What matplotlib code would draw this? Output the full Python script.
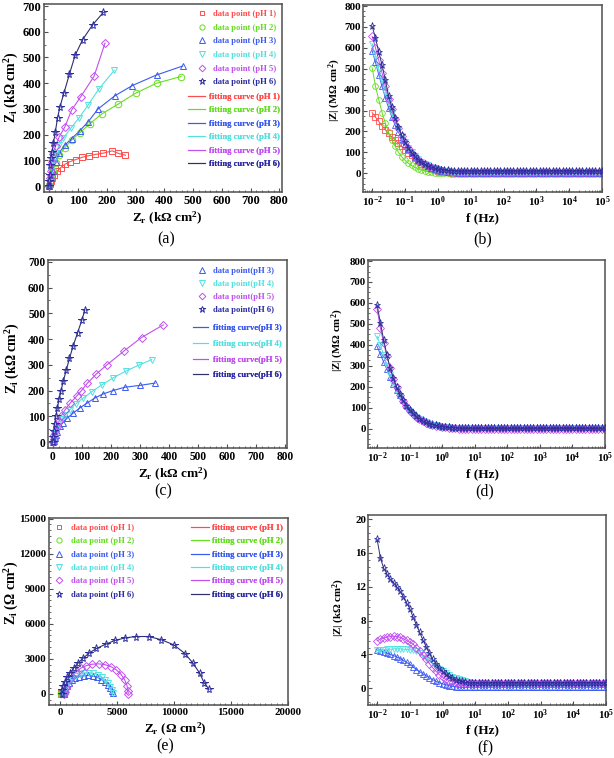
import numpy as np
import matplotlib
matplotlib.use('Agg')
import matplotlib.pyplot as plt
from matplotlib.ticker import MultipleLocator, AutoMinorLocator, LogLocator, FuncFormatter, NullFormatter

W, H = 614, 758

RED = '#FF4D4D'
GREEN = '#66DD22'
BLUE = '#3B5BF0'
CYAN = '#55E0E0'
VIOLET = '#C050F0'
NAVY = '#2C2CA0'
NAVY_LINE = '#30306A'

# ---- (a) Nyquist, kOhm cm2 ----
a_zr = {
    1: [0, 2, 5, 10, 18, 28, 40, 55, 72, 92, 115, 137, 160, 188, 219, 240, 265],
    2: [0, 5, 12, 22, 35, 55, 78, 107, 141, 182, 240, 300, 373, 458],
    3: [0, 5, 12, 22, 35, 55, 78, 107, 136, 170, 228, 289, 373, 464],
    4: [0, 3, 8, 15, 25, 35, 49, 75, 103, 136, 172, 226],
    5: [0, 3, 6, 10, 15, 22, 35, 54, 78, 110, 156, 194],
    6: [0, 1, 2, 3, 6, 10, 15, 21, 29, 37, 51, 70, 90, 116, 151, 188],
}
a_zi = {
    1: [0, 8, 18, 30, 45, 58, 72, 85, 95, 103, 112, 118, 123, 128, 137, 127, 120],
    2: [0, 30, 60, 90, 120, 150, 179, 208, 242, 280, 319, 361, 400, 426],
    3: [0, 30, 60, 95, 130, 160, 185, 216, 251, 300, 351, 391, 432, 467],
    4: [0, 30, 60, 95, 130, 160, 186, 225, 264, 316, 377, 450],
    5: [0, 30, 60, 95, 125, 155, 192, 229, 296, 348, 427, 556],
    6: [0, 20, 45, 82, 108, 134, 169, 209, 264, 306, 361, 434, 508, 569, 627, 675],
}

# ---- (c) Nyquist, kOhm cm2 ----
c_zr = {
    3: [0, 3, 6, 10, 15, 23, 35, 49, 69, 92, 117, 144, 173, 207, 247, 299, 351],
    4: [0, 2, 5, 9, 14, 21, 30, 42, 58, 78, 103, 133, 168, 208, 252, 298, 340],
    5: [0, 2, 4, 8, 13, 20, 29, 42, 60, 83, 96, 119, 150, 186, 245, 305, 380],
    6: [0, 1, 3, 6, 10, 15, 21, 28, 36, 46, 57, 70, 85, 100, 110],
}
c_zi = {
    3: [0, 6, 16, 28, 41, 61, 76, 93, 112, 132, 151, 171, 187, 200, 213, 220, 229],
    4: [0, 10, 22, 36, 52, 70, 88, 106, 126, 148, 170, 195, 222, 250, 276, 300, 320],
    5: [0, 12, 26, 42, 60, 80, 102, 126, 152, 180, 197, 229, 265, 300, 354, 406, 455],
    6: [0, 18, 42, 70, 100, 132, 166, 200, 238, 280, 325, 375, 425, 475, 513],
}

# ---- (e) Nyquist, Ohm cm2 ----
e_zr = {
    1: [40, 70, 110, 160, 210, 250, 280],
    2: [50, 90, 140, 200, 260, 310, 340],
    3: [280, 330, 420, 560, 750, 1000, 1300, 1650, 2050, 2450, 2850, 3250, 3600, 3900, 4150, 4350, 4500, 4580],
    4: [300, 350, 450, 600, 800, 1050, 1350, 1700, 2100, 2500, 2900, 3300, 3650, 3950, 4200, 4400, 4550, 4620],
    5: [350, 380, 520, 670, 970, 1340, 1780, 2280, 2810, 3370, 3890, 4420, 4920, 5360, 5650, 5850, 5940, 5960],
    6: [100, 115, 230, 410, 610, 880, 1170, 1550, 2000, 2520, 3170, 3990, 4780, 5710, 6680, 7760,
        8850, 9960, 10950, 11650, 12240, 12620, 13060],
}
e_zi = {
    1: [0, 50, 80, 90, 75, 45, 10],
    2: [0, 60, 100, 115, 100, 60, 15],
    3: [0, 200, 430, 680, 920, 1150, 1340, 1480, 1560, 1580, 1530, 1410, 1230, 1010, 760, 500, 250, 50],
    4: [0, 230, 480, 760, 1040, 1300, 1530, 1700, 1800, 1820, 1770, 1640, 1440, 1200, 920, 620, 300, 60],
    5: [0, 200, 480, 770, 1340, 1830, 2200, 2420, 2540, 2570, 2510, 2340, 2060, 1630, 1200, 710, 250, 20],
    6: [0, 343, 686, 1057, 1429, 1829, 2200, 2629, 3057, 3486, 3886, 4256, 4570, 4799, 4910, 4910,
        4640, 4199, 3450, 2629, 1771, 971, 400],
}

# ---- Bode |Z| sweeps, 10 points per decade from 0.01 Hz to 100 kHz ----
freq = np.logspace(-2, 5, 71)

b_mod = {
    1: [290, 268, 248, 228, 207, 190, 173, 157, 143, 128, 113, 98, 85, 71, 57, 45, 34, 26, 19, 14,
        10, 7, 5, 4, 3, 2,
        0, 0, 0, 0, 0, 0, 0, 0, 0, 0, 0, 0, 0, 0, 0,
        0, 0, 0, 0, 0, 0, 0, 0, 0, 0, 0, 0, 0, 0, 0,
        0, 0, 0, 0, 0, 0, 0, 0, 0, 0, 0, 0, 0, 0, 0],
    2: [504, 416, 352, 290, 240, 195, 160, 128, 100, 78, 62, 48, 37, 28, 21, 15, 11, 7, 4, 2,
        1, 0, -1, -1, -2, -2,
        -2, -2, -2, -2, -2, -2, -2, -2, -2, -2, -2, -2, -2, -2, -2,
        -2, -2, -2, -2, -2, -2, -2, -2, -2, -2, -2, -2, -2, -2, -2,
        -2, -2, -2, -2, -2, -2, -2, -2, -2, -2, -2, -2, -2, -2, -2],
    3: [585, 530, 472, 415, 362, 312, 268, 230, 196, 165, 138, 115, 95, 78, 64, 52, 42, 34, 27, 21,
        16, 12, 9, 7, 5, 4,
        3, 3, 3, 3, 3, 3, 3, 3, 3, 3, 3, 3, 3, 3, 3,
        3, 3, 3, 3, 3, 3, 3, 3, 3, 3, 3, 3, 3, 3, 3,
        3, 3, 3, 3, 3, 3, 3, 3, 3, 3, 3, 3, 3, 3, 3],
    4: [620, 560, 500, 445, 390, 337, 290, 248, 210, 177, 148, 122, 100, 82, 67, 55, 45, 37, 30, 24,
        19, 15, 12, 9, 7, 6,
        4, 4, 4, 4, 4, 4, 4, 4, 4, 4, 4, 4, 4, 4, 4,
        4, 4, 4, 4, 4, 4, 4, 4, 4, 4, 4, 4, 4, 4, 4,
        4, 4, 4, 4, 4, 4, 4, 4, 4, 4, 4, 4, 4, 4, 4],
    5: [655, 600, 540, 480, 418, 357, 305, 258, 215, 180, 148, 120, 98, 80, 65, 53, 43, 35, 29, 23,
        19, 15, 12, 10, 8, 7,
        6, 6, 6, 6, 6, 6, 6, 6, 6, 6, 6, 6, 6, 6, 6,
        6, 6, 6, 6, 6, 6, 6, 6, 6, 6, 6, 6, 6, 6, 6,
        6, 6, 6, 6, 6, 6, 6, 6, 6, 6, 6, 6, 6, 6, 6],
    6: [703, 647, 580, 517, 445, 370, 317, 266, 219, 182, 150, 122, 99, 80, 65, 53, 43, 35, 29, 24,
        20, 17, 15, 13, 12, 11,
        10, 10, 10, 10, 10, 10, 10, 10, 10, 10, 10, 10, 10, 10, 10,
        10, 10, 10, 10, 10, 10, 10, 10, 10, 10, 10, 10, 10, 10, 10,
        10, 10, 10, 10, 10, 10, 10, 10, 10, 10, 10, 10, 10, 10, 10],
}

d_mod = {
    3: [392, 355, 318, 282, 248, 215, 185, 158, 134, 113, 95, 79, 66, 55, 45, 37, 31, 26, 21, 17,
        14, 12, 10, 9, 8, 8,
        8, 8, 8, 8, 8, 8, 8, 8, 8, 8, 8, 8, 8, 8, 8,
        8, 8, 8, 8, 8, 8, 8, 8, 8, 8, 8, 8, 8, 8, 8,
        8, 8, 8, 8, 8, 8, 8, 8, 8, 8, 8, 8, 8, 8, 8],
    4: [440, 400, 350, 300, 255, 215, 180, 150, 125, 103, 85, 70, 57, 46, 37, 30, 24, 19, 15, 12,
        9, 7, 5, 4, 3, 3,
        3, 3, 3, 3, 3, 3, 3, 3, 3, 3, 3, 3, 3, 3, 3,
        3, 3, 3, 3, 3, 3, 3, 3, 3, 3, 3, 3, 3, 3, 3,
        3, 3, 3, 3, 3, 3, 3, 3, 3, 3, 3, 3, 3, 3, 3],
    5: [570, 480, 410, 345, 287, 237, 196, 161, 131, 106, 86, 69, 55, 44, 35, 28, 22, 17, 13, 10,
        7, 5, 3, 2, 1, 0,
        0, 0, 0, 0, 0, 0, 0, 0, 0, 0, 0, 0, 0, 0, 0,
        0, 0, 0, 0, 0, 0, 0, 0, 0, 0, 0, 0, 0, 0, 0,
        0, 0, 0, 0, 0, 0, 0, 0, 0, 0, 0, 0, 0, 0, 0],
    6: [590, 505, 425, 352, 290, 240, 198, 163, 134, 110, 90, 73, 59, 47, 38, 30, 24, 19, 15, 12,
        9, 7, 5, 4, 3, 2,
        1, 1, 1, 1, 1, 1, 1, 1, 1, 1, 1, 1, 1, 1, 1,
        1, 1, 1, 1, 1, 1, 1, 1, 1, 1, 1, 1, 1, 1, 1,
        1, 1, 1, 1, 1, 1, 1, 1, 1, 1, 1, 1, 1, 1, 1],
}

f_mod = {
    3: [4.5, 4.4, 4.3, 4.15, 4.0, 3.85, 3.7, 3.5, 3.3, 3.05, 2.8, 2.5, 2.2, 1.95, 1.7, 1.45, 1.2, 1.0,
        0.8, 0.65, 0.5, 0.4, 0.3, 0.2, 0.15,
        0.1, 0.1, 0.1, 0.1, 0.1, 0.1, 0.1, 0.1, 0.1, 0.1, 0.1, 0.1, 0.1, 0.1, 0.1, 0.1,
        0.1, 0.1, 0.1, 0.1, 0.1, 0.1, 0.1, 0.1, 0.1, 0.1, 0.1, 0.1, 0.1, 0.1, 0.1,
        0.1, 0.1, 0.1, 0.1, 0.1, 0.1, 0.1, 0.1, 0.1, 0.1, 0.1, 0.1, 0.1, 0.1, 0.1],
    4: [4.5, 4.5, 4.55, 4.6, 4.6, 4.65, 4.65, 4.65, 4.6, 4.6, 4.55, 4.5, 4.35, 4.15, 3.9, 3.6, 3.3,
        3.0, 2.65, 2.3, 2.0, 1.75, 1.55, 1.35, 1.2, 1.05, 0.95, 0.85, 0.75, 0.65, 0.55, 0.5,
        0.45, 0.45, 0.45, 0.45, 0.45, 0.45, 0.45, 0.45, 0.45, 0.45, 0.45, 0.45, 0.45,
        0.45, 0.45, 0.45, 0.45, 0.45, 0.45, 0.45, 0.45, 0.45, 0.45, 0.45, 0.45, 0.45,
        0.45, 0.45, 0.45, 0.45, 0.45, 0.45, 0.45, 0.45, 0.45, 0.45, 0.45, 0.45, 0.45],
    5: [5.6, 5.8, 5.95, 6.05, 6.1, 6.15, 6.1, 6.0, 5.85, 5.65, 5.45, 5.2, 4.8, 4.4, 3.9, 3.4, 2.9,
        2.4, 2.0, 1.6, 1.3, 1.05, 0.9, 0.8, 0.7,
        0.65, 0.65, 0.65, 0.65, 0.65, 0.65, 0.65, 0.65, 0.65, 0.65, 0.65, 0.65, 0.65, 0.65, 0.65, 0.65,
        0.65, 0.65, 0.65, 0.65, 0.65, 0.65, 0.65, 0.65, 0.65, 0.65, 0.65, 0.65, 0.65, 0.65, 0.65,
        0.65, 0.65, 0.65, 0.65, 0.65, 0.65, 0.65, 0.65, 0.65, 0.65, 0.65, 0.65, 0.65, 0.65, 0.65],
    6: [17.6, 15.4, 14.2, 13.5, 12.9, 12.5, 12.0, 11.5, 10.8, 10.1, 9.4, 8.4, 7.5, 6.6, 5.7, 4.9,
        4.1, 3.4, 2.9, 2.4, 2.0, 1.7, 1.4, 1.2, 1.0, 0.9, 0.8, 0.7,
        0.6, 0.6, 0.6, 0.6, 0.6, 0.6, 0.6, 0.6, 0.6, 0.6, 0.6, 0.6, 0.6, 0.6, 0.6,
        0.6, 0.6, 0.6, 0.6, 0.6, 0.6, 0.6, 0.6, 0.6, 0.6, 0.6, 0.6, 0.6, 0.6, 0.6,
        0.6, 0.6, 0.6, 0.6, 0.6, 0.6, 0.6, 0.6, 0.6, 0.6, 0.6, 0.6, 0.6, 0.6, 0.6],
}

colors = {1: RED, 2: GREEN, 3: BLUE, 4: CYAN, 5: VIOLET, 6: NAVY}
line_colors = {1: RED, 2: GREEN, 3: BLUE, 4: CYAN, 5: VIOLET, 6: NAVY_LINE}
markers = {1: 's', 2: 'o', 3: '^', 4: 'v', 5: 'D', 6: '*'}
msizes = {1: 4.4, 2: 4.7, 3: 5.0, 4: 5.0, 5: 4.2, 6: 5.8}

plt.rcParams.update({
    'font.family': ['Liberation Serif', 'DejaVu Serif'],
    'font.weight': 'bold',
    'mathtext.fontset': 'custom',
    'mathtext.rm': 'Liberation Serif:bold',
    'mathtext.it': 'Liberation Serif:italic:bold',
    'mathtext.bf': 'Liberation Serif:bold',
    'axes.linewidth': 1.1,
    'axes.edgecolor': '#505050',
    'xtick.direction': 'in',
    'ytick.direction': 'in',
    'xtick.color': '#505050',
    'ytick.color': '#505050',
    'xtick.labelcolor': 'black',
    'ytick.labelcolor': 'black',
    'xtick.major.size': 3,
    'ytick.major.size': 3,
    'xtick.minor.size': 1.6,
    'ytick.minor.size': 1.6,
    'xtick.major.pad': 2.0,
    'ytick.major.pad': 2.0,
})

fig = plt.figure(figsize=(W / 100, H / 100), dpi=100)


def px_axes(l, t, r, b):
    ax = fig.add_axes([l / W, 1 - b / H, (r - l) / W, (b - t) / H])
    ax._px = (l, t, r, b)
    return ax


def place_labels(ax, xlab, ylab, xpos, ypos, xsize, ysize):
    # put axis labels at pixel centres
    l, t, r, b = ax._px
    ax.set_xlabel(xlab, fontsize=xsize, fontweight='bold')
    ax.set_ylabel(ylab, fontsize=ysize, fontweight='bold')
    ax.xaxis.label.set_va('center')
    ax.yaxis.label.set_va('center')
    ax.xaxis.set_label_coords((xpos[0] - l) / (r - l), (b - xpos[1]) / (b - t))
    ax.yaxis.set_label_coords((ypos[0] - l) / (r - l), (b - ypos[1]) / (b - t))


def legend_block(ax, handles, labels, cols, x, y, hl, tp, ls, ms=0.8):
    leg = ax.legend(handles, labels, loc='upper left', bbox_to_anchor=(x, y),
                    frameon=False, borderpad=0, borderaxespad=0, handlelength=hl,
                    handletextpad=tp, labelspacing=ls, markerscale=ms,
                    prop={'family': 'Liberation Serif', 'weight': 'bold', 'size': 6.2},
                    labelcolor=cols)
    ax.add_artist(leg)


def nyquist(ax, zr, zi, keys):
    pts, fits = [], []
    for k in keys:
        fit, = ax.plot(zr[k], zi[k], color=line_colors[k], lw=0.8, zorder=2 + k * 0.1)
        p, = ax.plot(zr[k], zi[k], ls='none', marker=markers[k], mfc='none', mec=colors[k],
                     ms=msizes[k], mew=0.7, zorder=3 + k * 0.1)
        pts.append(p)
        fits.append(fit)
    return pts, fits


def bode(ax, mod, keys):
    for k in keys:
        n = min(len(mod[k]), len(freq))
        ax.plot(freq[:n], mod[k][:n], color=line_colors[k], lw=0.7, marker=markers[k], mfc='none',
                mec=colors[k], ms=msizes[k] - 0.6, mew=0.6, zorder=2 + k * 0.1)


def style_lin(ax, xlim, ylim, xmaj, ymaj, xmin_n, ymin_n, tsize):
    ax.set_xlim(*xlim)
    ax.set_ylim(*ylim)
    ax.xaxis.set_major_locator(MultipleLocator(xmaj))
    ax.yaxis.set_major_locator(MultipleLocator(ymaj))
    ax.xaxis.set_minor_locator(AutoMinorLocator(xmin_n))
    ax.yaxis.set_minor_locator(AutoMinorLocator(ymin_n))
    ax.tick_params(labelsize=tsize)


def style_log(ax, ylim, ymaj, ymin_n, tsize):
    ax.set_xscale('log')
    ax.set_xlim(10 ** -2.28, 1e5)
    ax.set_ylim(*ylim)
    ax.xaxis.set_major_locator(LogLocator(base=10, numticks=20))
    ax.xaxis.set_minor_locator(LogLocator(base=10, subs=np.arange(2, 10), numticks=20))
    ax.xaxis.set_minor_formatter(NullFormatter())
    ax.xaxis.set_major_formatter(FuncFormatter(lambda v, p: r'$\mathrm{10^{%d}}$' % round(np.log10(v))))
    ax.yaxis.set_major_locator(MultipleLocator(ymaj))
    ax.yaxis.set_minor_locator(AutoMinorLocator(ymin_n))
    ax.tick_params(labelsize=tsize)
    ax.tick_params(axis='y', pad=1.5)


ZR_K = r'Z$_\mathrm{r}$ (k$\Omega$ cm$^\mathrm{2}$)'
ZI_K = r'Z$_\mathrm{i}$ (k$\Omega$ cm$^\mathrm{2}$)'
ZM_M = r'|Z| (M$\Omega$ cm$^\mathrm{2}$)'

# (a)
ax = px_axes(44, 4, 282, 192)
pts, fits = nyquist(ax, a_zr, a_zi, [1, 2, 3, 4, 5, 6])
style_lin(ax, (-18, 809), (-23, 708), 100, 100, 5, 2, 9.0)
place_labels(ax, ZR_K, ZI_K, (167, 218), (12, 87), 9.5, 10)
keys = [1, 2, 3, 4, 5, 6]
legend_block(ax, pts, ['data point (pH %d)' % k for k in keys], [colors[k] for k in keys],
             0.646, 0.968, 1.0, 0.78, 0.65)
legend_block(ax, fits, ['fitting curve (pH %d)' % k for k in keys], [colors[k] for k in keys],
             0.605, 0.527, 2.0, 0.47, 0.63)

# (b)
ax = px_axes(363, 5, 602, 192)
bode(ax, b_mod, [1, 2, 3, 4, 5, 6])
style_log(ax, (-90, 805), 100, 4, 8.0)
place_labels(ax, 'f (Hz)', ZM_M, (483, 218), (335, 90), 9.5, 7.8)

# (c)
ax = px_axes(48, 260, 287, 448)
keys = [3, 4, 5, 6]
pts, fits = nyquist(ax, c_zr, c_zi, keys)
style_lin(ax, (-17, 806), (-23, 707), 100, 100, 5, 2, 8.3)
place_labels(ax, ZR_K, ZI_K, (173, 474), (13, 358), 9.5, 10)
legend_block(ax, pts, ['data point(pH %d)' % k for k in keys], [colors[k] for k in keys],
             0.626, 0.962, 1.0, 0.78, 0.56)
legend_block(ax, fits, ['fitting curve(pH %d)' % k for k in keys], [colors[k] for k in keys],
             0.607, 0.659, 1.75, 0.58, 0.9)

# (d)
ax = px_axes(368, 260, 605, 448)
bode(ax, d_mod, [3, 4, 5, 6])
style_log(ax, (-93, 805), 100, 4, 7.8)
place_labels(ax, 'f (Hz)', ZM_M, (483, 474), (338, 340), 9.5, 7.8)

# (e)
ax = px_axes(49, 518, 288, 705)
keys = [1, 2, 3, 4, 5, 6]
pts, fits = nyquist(ax, e_zr, e_zi, keys)
style_lin(ax, (-1000, 20000), (-950, 15050), 5000, 3000, 10, 6, 7.8)
place_labels(ax, r'Z$_\mathrm{r}$ ($\Omega$ cm$^\mathrm{2}$)', r'Z$_\mathrm{i}$ ($\Omega$ cm$^\mathrm{2}$)',
             (175, 729), (12, 593), 9.5, 10)
legend_block(ax, pts, ['data point (pH %d)' % k for k in keys], [colors[k] for k in keys],
             0.024, 0.968, 1.0, 0.9, 0.62)
legend_block(ax, fits, ['fitting curve (pH %d)' % k for k in keys], [colors[k] for k in keys],
             0.594, 0.968, 2.1, 0.35, 0.62)

# (f)
ax = px_axes(368, 515, 606, 705)
bode(ax, f_mod, [3, 4, 5, 6])
style_log(ax, (-2, 20.5), 4, 5, 7.8)
place_labels(ax, 'f (Hz)', r'|Z| (k$\Omega$ cm$^\mathrm{2}$)', (483, 730), (339, 607), 9.5, 7.8)

for lab, x, y in [('(a)', 166, 239), ('(b)', 483, 239), ('(c)', 163, 491),
                  ('(d)', 485, 491), ('(e)', 165, 746), ('(f)', 485, 748)]:
    fig.text(x / W, 1 - y / H, lab, ha='center', va='center', fontsize=11.5, fontweight='normal')

fig.savefig('out.png', dpi=100)
